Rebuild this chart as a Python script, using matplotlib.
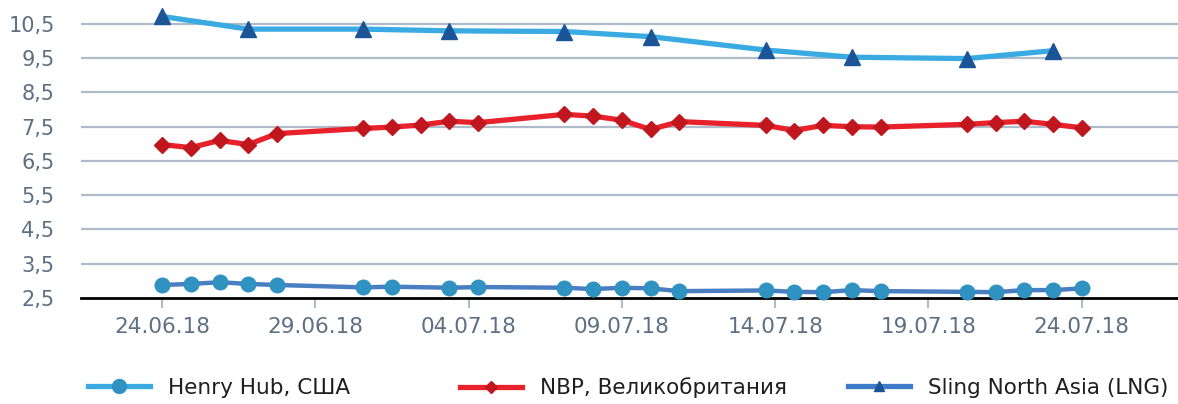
import matplotlib
matplotlib.use("Agg")
import matplotlib.pyplot as plt
from matplotlib.lines import Line2D
import numpy as np
import pandas as pd

plt.rcParams['font.family'] = ['DejaVu Sans']

# ---- data ----
start_date = "2018-06-25"
henry_dates = ["2018-06-25", "2018-06-26", "2018-06-27", "2018-06-28", "2018-06-29",
               "2018-07-02", "2018-07-03", "2018-07-05", "2018-07-06",
               "2018-07-09", "2018-07-10", "2018-07-11", "2018-07-12", "2018-07-13",
               "2018-07-16", "2018-07-17", "2018-07-18", "2018-07-19", "2018-07-20",
               "2018-07-23", "2018-07-24", "2018-07-25", "2018-07-26", "2018-07-27"]
henry_values = [2.88, 2.91, 2.96, 2.91, 2.88,
                2.81, 2.83, 2.80, 2.82,
                2.80, 2.76, 2.80, 2.78, 2.70,
                2.72, 2.68, 2.67, 2.73, 2.70,
                2.68, 2.67, 2.73, 2.73, 2.78]

nbp_dates = ["2018-06-25", "2018-06-26", "2018-06-27", "2018-06-28", "2018-06-29",
             "2018-07-02", "2018-07-03", "2018-07-04", "2018-07-05", "2018-07-06",
             "2018-07-09", "2018-07-10", "2018-07-11", "2018-07-12", "2018-07-13",
             "2018-07-16", "2018-07-17", "2018-07-18", "2018-07-19", "2018-07-20",
             "2018-07-23", "2018-07-24", "2018-07-25", "2018-07-26", "2018-07-27"]
nbp_values = [6.98, 6.89, 7.10, 6.98, 7.30,
              7.45, 7.49, 7.55, 7.66, 7.62,
              7.86, 7.81, 7.69, 7.42, 7.65,
              7.54, 7.39, 7.54, 7.50, 7.49,
              7.57, 7.62, 7.66, 7.57, 7.47]

sling_dates = ["2018-06-25", "2018-06-28", "2018-07-02", "2018-07-05", "2018-07-09",
               "2018-07-12", "2018-07-16", "2018-07-19", "2018-07-23", "2018-07-26"]
sling_values = [10.72, 10.35, 10.35, 10.30, 10.28, 10.13, 9.74, 9.53, 9.49, 9.72]

x_tick_labels = ["24.06.18", "29.06.18", "04.07.18", "09.07.18", "14.07.18", "19.07.18", "24.07.18"]
y_ticks = [2.5, 3.5, 4.5, 5.5, 6.5, 7.5, 8.5, 9.5, 10.5]

series_names = ["Henry Hub, США", "NBP, Великобритания", "Sling North Asia (LNG)"]


def days(dates):
    return (pd.to_datetime(dates) - pd.Timestamp(start_date)).days.values


fig = plt.figure(figsize=(11.78, 4.04), dpi=100)
ax = fig.add_axes([81 / 1178, 106 / 404, 1 - 81 / 1178, 1 - 106 / 404])

c_sling_line = "#3aaae2"
c_sling_mk = "#1b5597"
c_nbp_line = "#e8212b"
c_nbp_mk = "#c0171f"
c_henry_line = "#4a7ec2"
c_henry_mk = "#2f92c1"

ax.plot(days(sling_dates), sling_values, color=c_sling_line, lw=3.8, marker="^",
        ms=11, mfc=c_sling_mk, mec=c_sling_mk, zorder=4, clip_on=False)
ax.plot(days(nbp_dates), nbp_values, color=c_nbp_line, lw=3.8, marker="D",
        ms=8.5, mfc=c_nbp_mk, mec=c_nbp_mk, zorder=4, clip_on=False)
ax.plot(days(henry_dates), henry_values, color=c_henry_line, lw=3.2, marker="o",
        ms=10.5, mfc=c_henry_mk, mec=c_henry_mk, zorder=4, clip_on=False)

ax.set_xlim(-2.82, 35.35)
ax.set_ylim(2.5, 11.2)

ax.set_yticks(y_ticks)
ax.set_yticklabels([f"{v:.1f}".replace(".", ",") for v in y_ticks])
ax.set_xticks(np.linspace(0, 32, len(x_tick_labels)))
ax.set_xticklabels(x_tick_labels)

for v in y_ticks[1:]:
    ax.axhline(v, color="#aebbc8", lw=1.6, zorder=1)

for s in ["top", "right", "left"]:
    ax.spines[s].set_visible(False)
ax.spines["bottom"].set_color("black")
ax.spines["bottom"].set_linewidth(2)
ax.spines["bottom"].set_zorder(3)

ax.tick_params(axis="y", length=0, pad=19, labelsize=15, labelcolor="#5d7083")
ax.tick_params(axis="x", length=7.5, width=1.5, color="#aebbc8", pad=6,
               labelsize=15.5, labelcolor="#5d7083")

# legend (three separate entries placed like the original)
legend_handles = [
    Line2D([], [], color=c_sling_line, lw=3.8, marker="o", ms=10, mfc=c_henry_mk, mec=c_henry_mk),
    Line2D([], [], color=c_nbp_line, lw=3.8, marker="D", ms=6.5, mfc=c_nbp_mk, mec=c_nbp_mk),
    Line2D([], [], color="#3d7cc9", lw=3.8, marker="^", ms=7.5, mfc=c_sling_mk, mec=c_sling_mk),
]
leg_x = [88, 460, 848]
for h, name, xp in zip(legend_handles, series_names, leg_x):
    lg = fig.legend([h], [name], loc="center left", bbox_to_anchor=(xp / 1178, 16 / 404),
                    frameon=False, borderpad=0, borderaxespad=0, handlelength=2.9,
                    handletextpad=0.8, fontsize=15.5)
    for t in lg.get_texts():
        t.set_color("#1e1e1e")

fig.savefig("out.png", dpi=100)
